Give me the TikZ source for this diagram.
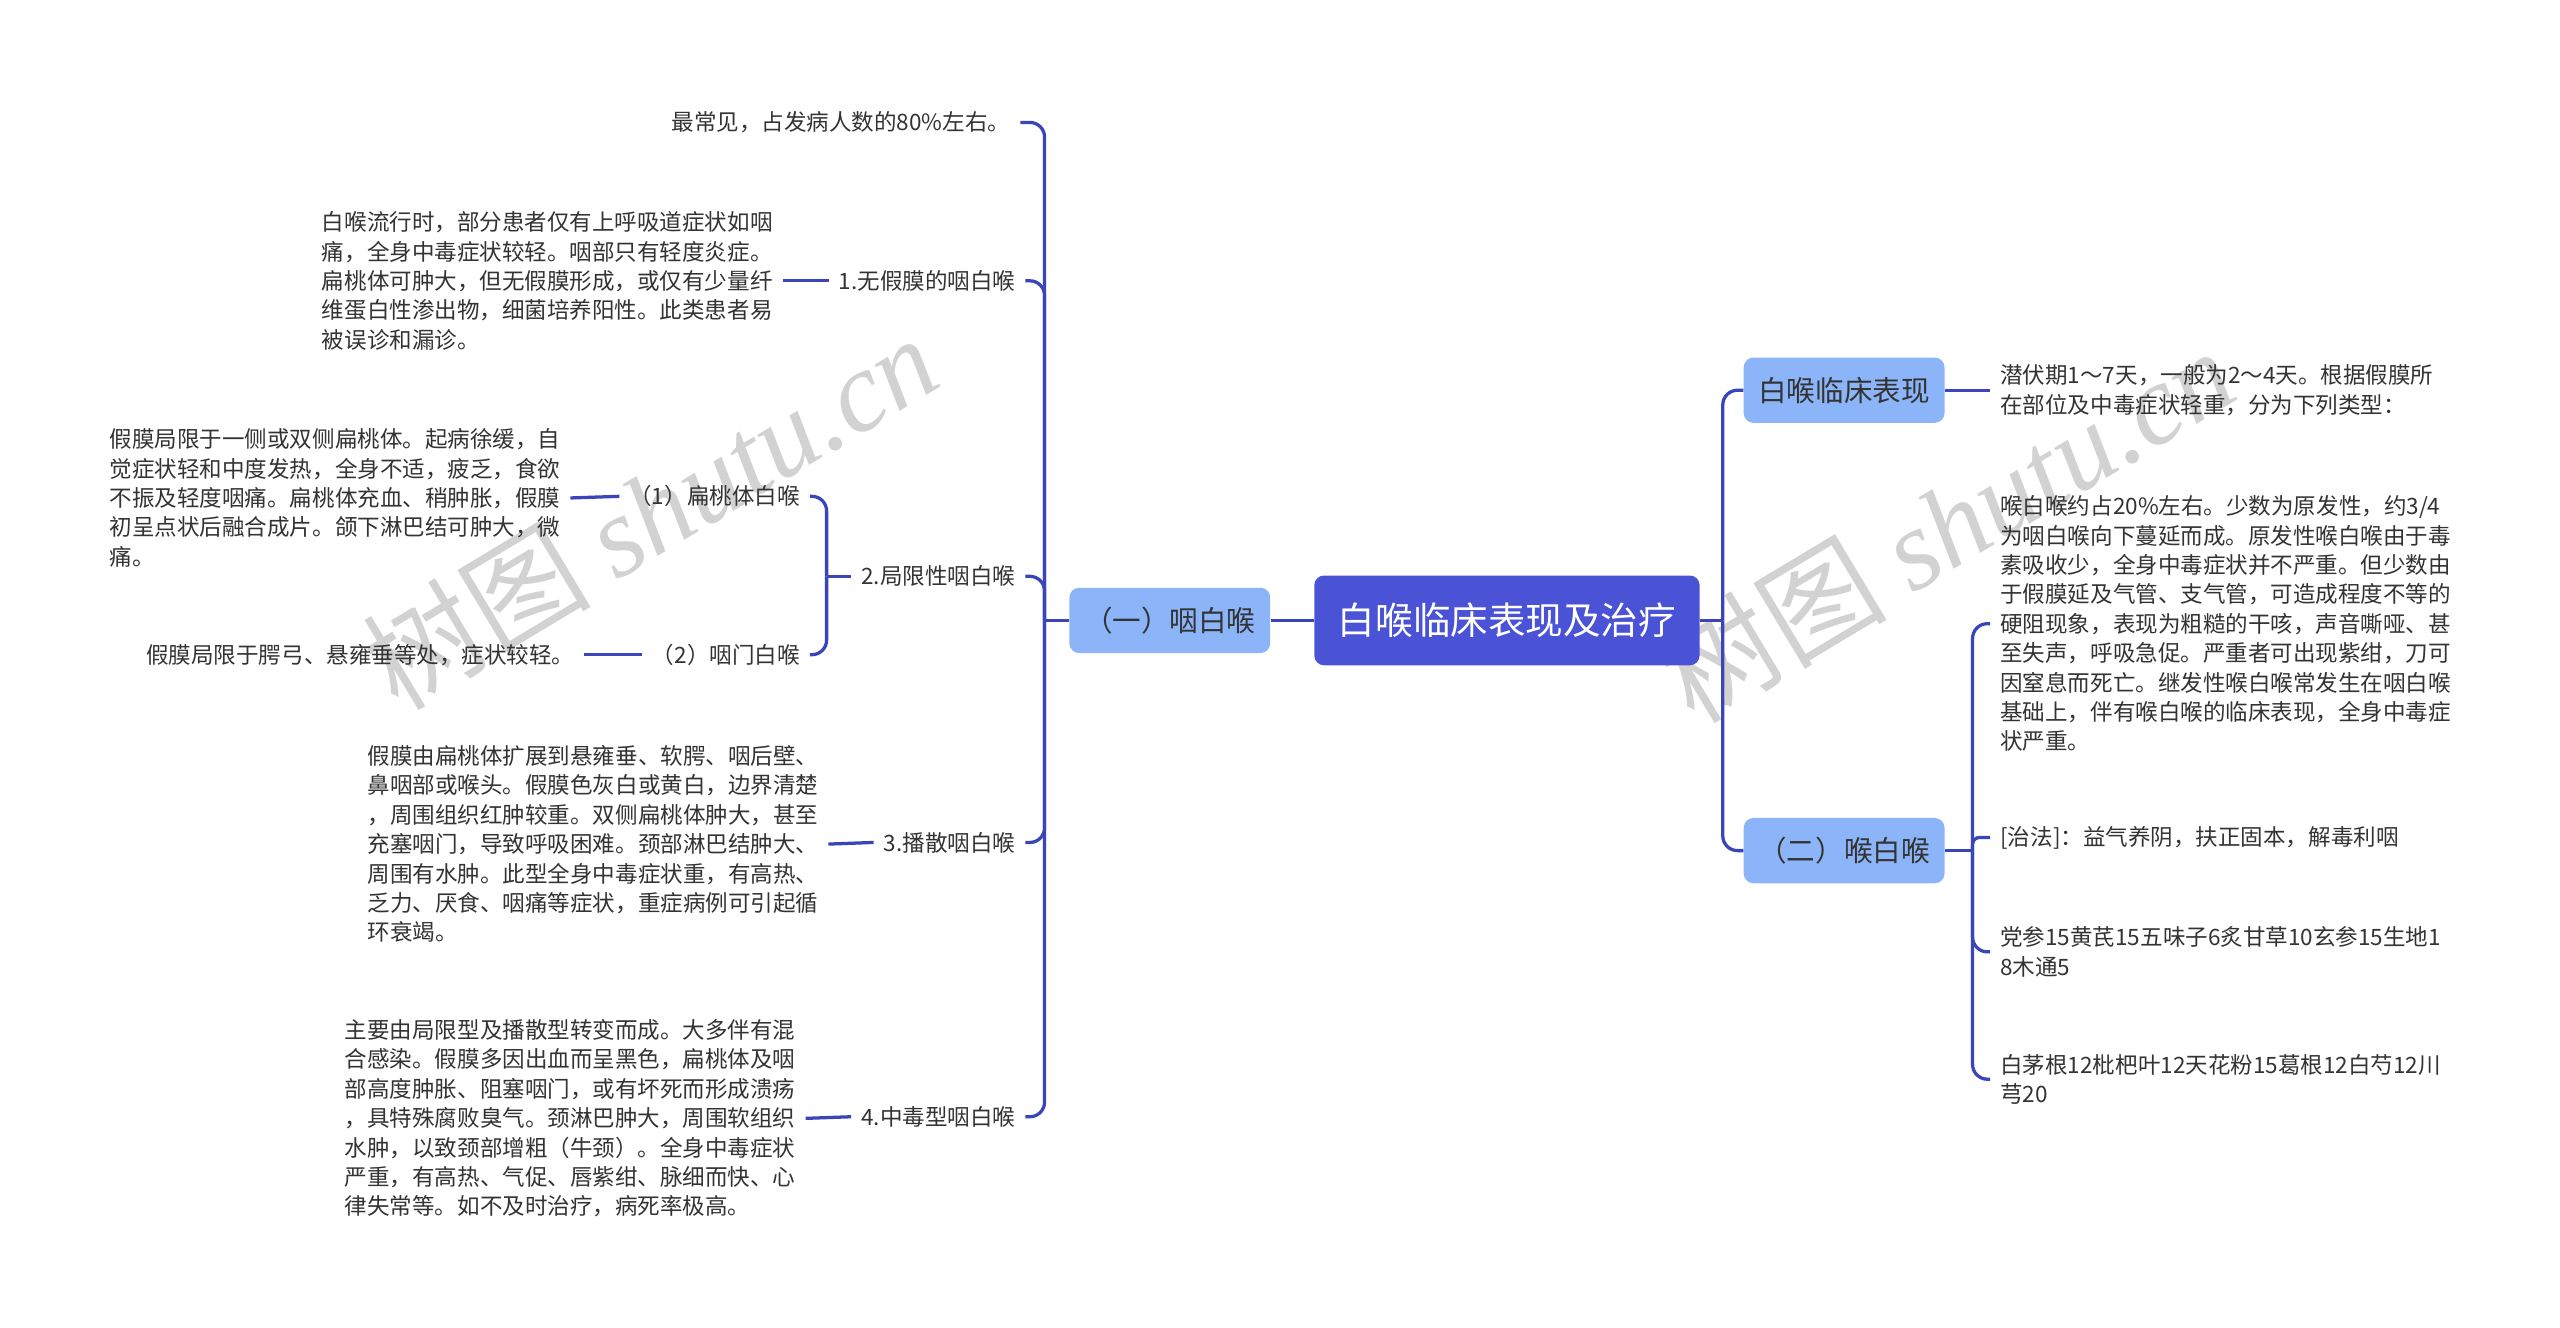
\documentclass[tikz,border=0pt]{standalone}
\usepackage{fontspec}
\setmainfont{Noto Sans CJK SC}
\newfontfamily\wmfont{Liberation Serif}
\newfontfamily\wmcjk{Noto Sans CJK SC}
\usetikzlibrary{calc}
\definecolor{rootc}{HTML}{4A52D6}
\definecolor{boxc}{HTML}{8CB5F9}
\definecolor{linec}{HTML}{3B45BA}
\definecolor{txtc}{HTML}{333333}
\definecolor{wmc}{HTML}{D2D2D2}
\tikzset{
  conn/.style={draw=linec, line width=2pt, rounded corners=9pt},
  rootbox/.style={fill=rootc, rounded corners=6pt, text=white, minimum width=236pt, minimum height=55pt, inner sep=0pt, font=\fontsize{23}{27}\selectfont},
  subbox/.style={fill=boxc, rounded corners=6pt, text=txtc, minimum width=123pt, minimum height=40pt, inner sep=0pt, font=\fontsize{17.5}{21}\selectfont},
  lbl/.style={text=txtc, inner xsep=6pt, inner ysep=2pt, font=\fontsize{13.8}{18}\selectfont},
  desc/.style={lbl, align=left},
  descr/.style={lbl, align=right},
  wm/.style={text=wmc, rotate=31, inner sep=0pt}
}
\begin{document}
\begin{tikzpicture}[x=1pt,y=-1pt]
\useasboundingbox[fill=white] (0,0) rectangle (1568,813);

% watermarks
\node[wm] (wm1) at (398,313) {\wmcjk\fontsize{70}{72}\selectfont 树图 \wmfont\itshape shutu.cn};
\node[wm] (wm2) at (1192,321) {\wmcjk\fontsize{70}{72}\selectfont 树图 \wmfont\itshape shutu.cn};

% main nodes
\node[rootbox] (root) at (923,380) {白喉临床表现及治疗};
\node[subbox] (yi) at (716.5,380) {（一）咽白喉};
\node[subbox] (bx) at (1129.5,239) {白喉临床表现};
\node[subbox] (er) at (1129.5,521) {（二）喉白喉};

% left labels
\node[lbl, anchor=east] (c0) at (625,75) {最常见，占发病人数的80\%左右。};
\node[lbl, anchor=east] (c1) at (628,172) {1.无假膜的咽白喉};
\node[lbl, anchor=east] (c2) at (628,353) {2.局限性咽白喉};
\node[lbl, anchor=east] (c3) at (628,516) {3.播散咽白喉};
\node[lbl, anchor=east] (c4) at (628,684) {4.中毒型咽白喉};
\node[lbl, anchor=east] (c21) at (496,304) {（1）扁桃体白喉};
\node[lbl, anchor=east] (c22) at (496,401) {（2）咽门白喉};

% left descriptions
\node[desc, anchor=west] (d1) at (191,172) {白喉流行时，部分患者仅有上呼吸道症状如咽\\痛，全身中毒症状较轻。咽部只有轻度炎症。\\扁桃体可肿大，但无假膜形成，或仅有少量纤\\维蛋白性渗出物，细菌培养阳性。此类患者易\\被误诊和漏诊。};
\node[desc, anchor=west] (d21) at (61,305) {假膜局限于一侧或双侧扁桃体。起病徐缓，自\\觉症状轻和中度发热，全身不适，疲乏，食欲\\不振及轻度咽痛。扁桃体充血、稍肿胀，假膜\\初呈点状后融合成片。颌下淋巴结可肿大，微\\痛。};
\node[descr, anchor=east] (d22) at (358,401) {假膜局限于腭弓、悬雍垂等处，症状较轻。};
\node[desc, anchor=west] (d3) at (219,517) {假膜由扁桃体扩展到悬雍垂、软腭、咽后壁、\\鼻咽部或喉头。假膜色灰白或黄白，边界清楚\\，周围组织红肿较重。双侧扁桃体肿大，甚至\\充塞咽门，导致呼吸困难。颈部淋巴结肿大、\\周围有水肿。此型全身中毒症状重，有高热、\\乏力、厌食、咽痛等症状，重症病例可引起循\\环衰竭。};
\node[desc, anchor=west] (d4) at (205,685) {主要由局限型及播散型转变而成。大多伴有混\\合感染。假膜多因出血而呈黑色，扁桃体及咽\\部高度肿胀、阻塞咽门，或有坏死而形成溃疡\\，具特殊腐败臭气。颈淋巴肿大，周围软组织\\水肿，以致颈部增粗（牛颈）。全身中毒症状\\严重，有高热、气促、唇紫绀、脉细而快、心\\律失常等。如不及时治疗，病死率极高。};

% right descriptions
\node[desc, anchor=west] (r0) at (1219,239) {潜伏期1～7天，一般为2～4天。根据假膜所\\在部位及中毒症状轻重，分为下列类型：};
\node[desc, anchor=west] (r1) at (1219,382) {喉白喉约占20\%左右。少数为原发性，约3/4\\为咽白喉向下蔓延而成。原发性喉白喉由于毒\\素吸收少，全身中毒症状并不严重。但少数由\\于假膜延及气管、支气管，可造成程度不等的\\硬阻现象，表现为粗糙的干咳，声音嘶哑、甚\\至失声，呼吸急促。严重者可出现紫绀，刀可\\因窒息而死亡。继发性喉白喉常发生在咽白喉\\基础上，伴有喉白喉的临床表现，全身中毒症\\状严重。};
\node[desc, anchor=west] (r2) at (1219,513) {[治法]：益气养阴，扶正固本，解毒利咽};
\node[desc, anchor=west] (r3) at (1219,583) {党参15黄芪15五味子6炙甘草10玄参15生地1\\8木通5};
\node[desc, anchor=west] (r4) at (1219,661) {白茅根12枇杷叶12天花粉15葛根12白芍12川\\芎20};

% connectors: root to first level
\draw[conn] (root.west) -- (yi.east);
\draw[conn] (root.east) -- ++(14,0);
\draw[conn] ($(root.east)+(14,0)$) |- (bx.west);
\draw[conn] ($(root.east)+(14,0)$) |- (er.west);

% (一) to its children
\draw[conn] (yi.west) -- ++(-15,0);
\foreach \c in {c0,c1,c2,c3,c4}{
  \draw[conn] ($(yi.west)+(-15,0)$) |- (\c.east);
}
% 2. to its children
\draw[conn] (c2.west) -- ++(-15,0);
\draw[conn] ($(c2.west)+(-15,0)$) |- (c21.east);
\draw[conn] ($(c2.west)+(-15,0)$) |- (c22.east);

% descriptions on the left
\draw[conn] (d1.east) -- (c1.west);
\draw[conn] (d21.east) -- (c21.west);
\draw[conn] (d22.east) -- (c22.west);
\draw[conn] (d3.east) -- (c3.west);
\draw[conn] (d4.east) -- (c4.west);

% right side
\draw[conn] (bx.east) -- (r0.west);
\draw[conn] (er.east) -- ++(17,0);
\draw[conn] ($(er.east)+(17,0)$) |- (r1.west);
\draw[conn, rounded corners=4pt] ($(er.east)+(17,0)$) |- (r2.west);
\draw[conn] ($(er.east)+(17,0)$) |- (r3.west);
\draw[conn] ($(er.east)+(17,0)$) |- (r4.west);
\end{tikzpicture}
\end{document}
